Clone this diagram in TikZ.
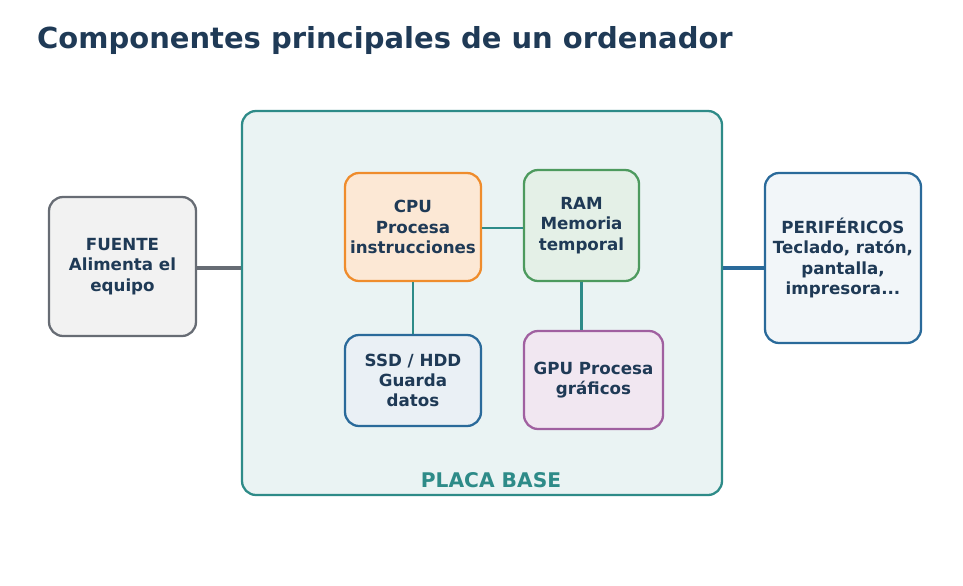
\documentclass[tikz,border=0pt]{standalone}
\usepackage{fontspec}
\setmainfont{DejaVu Sans}
\usetikzlibrary{positioning}
\definecolor{navy}{HTML}{1F3A56}
\definecolor{teal2}{HTML}{2E8B88}
\definecolor{greyline}{HTML}{676C74}
\definecolor{blueline}{HTML}{2A6A9A}
\definecolor{orangeline}{HTML}{EF8C2C}
\definecolor{greenline}{HTML}{4D9A5E}
\definecolor{purpleline}{HTML}{A060A0}
\tikzset{
  box/.style={rectangle, rounded corners=8pt, line width=1.3pt, align=center,
    font=\bfseries\fontsize{9.5}{11.5}\selectfont, text=navy, inner sep=1pt},
  link/.style={line width=1.3pt}
}
\begin{document}
\begin{tikzpicture}[x=0.02cm, y=-0.02cm]
\useasboundingbox (0,0) rectangle (963,585);
\node[anchor=west, text=navy, font=\bfseries\fontsize{16.5}{18}\selectfont] (title) at (31,40) {Componentes principales de un ordenador};
% placa base
\node (placa) [box, draw=teal2, fill=teal2!10!white, minimum width=480*0.02cm, minimum height=384*0.02cm] at (482,303) {};
\node (placalbl) [text=teal2, font=\bfseries\fontsize{11.5}{13}\selectfont] at (491,480) {PLACA BASE};
% componentes
\node (fuente) [box, draw=greyline, fill=gray!10, minimum width=147*0.02cm, minimum height=139*0.02cm] at (122.5,266.5) {FUENTE\\Alimenta el\\equipo};
\node (perif) [box, draw=blueline, fill=blueline!6, minimum width=156*0.02cm, minimum height=170*0.02cm] at (843,258) {PERIFÉRICOS\\Teclado, ratón,\\pantalla,\\impresora...};
\node (cpu) [box, draw=orangeline, fill=orangeline!20, minimum width=136*0.02cm, minimum height=108*0.02cm] at (413,227) {CPU\\Procesa\\instrucciones};
\node (ram) [box, draw=greenline, fill=greenline!15, minimum width=115*0.02cm, minimum height=111*0.02cm] at (581.5,225.5) {RAM\\Memoria\\temporal};
\node (ssd) [box, draw=blueline, fill=blueline!10, minimum width=136*0.02cm, minimum height=91*0.02cm] at (413,380.5) {SSD / HDD\\Guarda\\datos};
\node (gpu) [box, draw=purpleline, fill=purpleline!15, minimum width=139*0.02cm, minimum height=98*0.02cm] at (593.5,380) {GPU Procesa\\gráficos};
% conexiones
\draw[link, line width=1.8pt, greyline] (fuente.east |- 0,268) -- (placa.west |- 0,268);
\draw[link, line width=1.8pt, blueline] (placa.east |- 0,268) -- (perif.west |- 0,268);
\draw[link, teal2] (cpu.east |- 0,228) -- (ram.west |- 0,228);
\draw[link, teal2] (cpu.south) -- (ssd.north);
\draw[link, teal2] (ram.south) -- (ram.south |- gpu.north);
\end{tikzpicture}
\end{document}
